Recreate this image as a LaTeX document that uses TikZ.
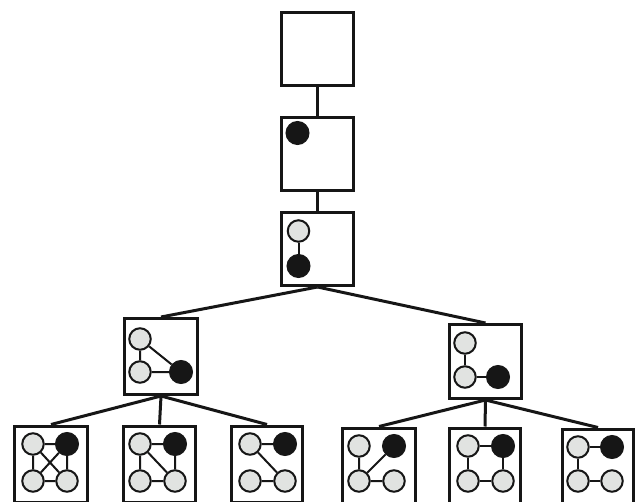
\documentclass[tikz,border=0pt]{standalone}
\definecolor{ink}{HTML}{161616}
\definecolor{pale}{HTML}{E1E3E1}
\begin{document}
\begin{tikzpicture}[x=1pt,y=-1pt,
  gbox/.style={draw=ink,line width=3pt,rectangle,minimum width=72pt,minimum height=73pt,inner sep=0pt,fill=white},
  vw/.style={draw=ink,line width=2pt,circle,fill=pale,minimum size=21.5pt,inner sep=0pt},
  vb/.style={draw=ink,line width=1pt,circle,fill=ink,minimum size=23pt,inner sep=0pt},
  link/.style={draw=ink,line width=3pt},
  edge/.style={draw=ink,line width=2pt}]
\useasboundingbox (0,0) rectangle (636,502);
\clip (0,0) rectangle (636,502);

% tree of boxes
\node[gbox] (r0) at (317.5,49) {};
\node[gbox] (r1) at (317.5,154) {};
\node[gbox] (r2) at (317.5,249) {};
\node[gbox,minimum width=73pt,minimum height=76pt] (a) at (161,356.5) {};
\node[gbox,minimum width=72pt,minimum height=74pt] (b) at (485.5,361.5) {};
\node[gbox,minimum width=73pt,minimum height=76pt] (a1) at (51,464) {};
\node[gbox,minimum width=72pt,minimum height=76pt] (a2) at (159.5,464) {};
\node[gbox,minimum width=71pt,minimum height=76pt] (a3) at (267,464) {};
\node[gbox,minimum width=73pt,minimum height=76pt] (b1) at (379,466) {};
\node[gbox,minimum width=71pt,minimum height=76pt] (b2) at (485,466) {};
\node[gbox,minimum width=71pt,minimum height=76pt] (b3) at (598,467) {};

% connectors between the boxes
\draw[link] (r0.south) -- (r1.north);
\draw[link] (r1.south) -- (r2.north);
\draw[link] (r2.south) -- (a.north);
\draw[link] (r2.south) -- (b.north);
\draw[link] (a.south) -- (a1.north);
\draw[link] (a.south) -- (a2.north);
\draw[link] (a.south) -- (a3.north);
\draw[link] (b.south) -- (b1.north);
\draw[link] (b.south) -- (b2.north);
\draw[link] (b.south) -- (b3.north);

% graphs inside the boxes
\node[vb] (r1b) at (297.5,133) {};

\node[vw] (r2w) at (298.5,231) {};
\node[vb] (r2b) at (298.5,266) {};
\draw[edge] (r2w) -- (r2b);

\node[vw] (aw1) at (140,339) {};
\node[vw] (aw2) at (140,372) {};
\node[vb] (ab) at (181,372) {};
\draw[edge] (aw1) -- (aw2) (aw1) -- (ab) (aw2) -- (ab);

\node[vw] (bw1) at (465,343) {};
\node[vw] (bw2) at (465,377) {};
\node[vb] (bb) at (498,377) {};
\draw[edge] (bw1) -- (bw2) (bw2) -- (bb);

% bottom row: top-left, top-right (black), bottom-left, bottom-right
\node[vw] (p1) at (33,444) {};
\node[vb] (q1) at (67,444) {};
\node[vw] (s1) at (33,481) {};
\node[vw] (t1) at (67,481) {};
\draw[edge] (p1) -- (q1) (p1) -- (s1) (q1) -- (t1) (s1) -- (t1) (p1) -- (t1) (q1) -- (s1);

\node[vw] (p2) at (140,444) {};
\node[vb] (q2) at (175,444) {};
\node[vw] (s2) at (140,481) {};
\node[vw] (t2) at (175,481) {};
\draw[edge] (p2) -- (q2) (p2) -- (s2) (q2) -- (t2) (s2) -- (t2) (p2) -- (t2);

\node[vw] (p3) at (250,444) {};
\node[vb] (q3) at (285,444) {};
\node[vw] (s3) at (250,481) {};
\node[vw] (t3) at (285,481) {};
\draw[edge] (p3) -- (q3) (p3) -- (t3) (s3) -- (t3);

\node[vw] (p4) at (359,446) {};
\node[vb] (q4) at (394,446) {};
\node[vw] (s4) at (359,481) {};
\node[vw] (t4) at (394,481) {};
\draw[edge] (p4) -- (s4) (q4) -- (s4) (s4) -- (t4);

\node[vw] (p5) at (468,446) {};
\node[vb] (q5) at (503,446) {};
\node[vw] (s5) at (468,481) {};
\node[vw] (t5) at (503,481) {};
\draw[edge] (p5) -- (q5) (p5) -- (s5) (q5) -- (t5) (s5) -- (t5);

\node[vw] (p6) at (578,447) {};
\node[vb] (q6) at (612,447) {};
\node[vw] (s6) at (578,481) {};
\node[vw] (t6) at (612,481) {};
\draw[edge] (p6) -- (q6) (p6) -- (s6) (s6) -- (t6);
\end{tikzpicture}
\end{document}
